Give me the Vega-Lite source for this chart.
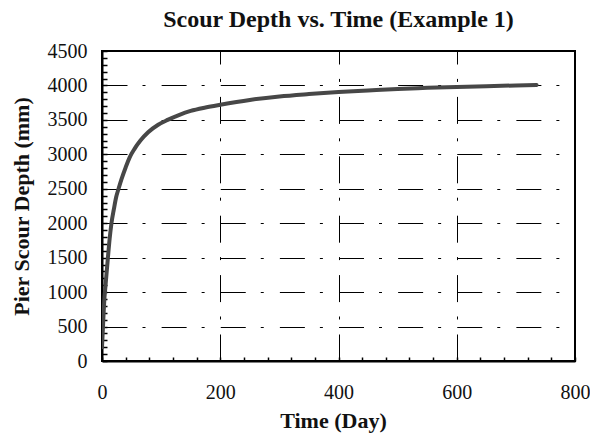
{
  "$schema": "https://vega.github.io/schema/vega-lite/v6.json",
  "width": 473,
  "height": 310,
  "autosize": {"type": "none"},
  "padding": {"left": 102, "top": 51, "right": 15, "bottom": 72},
  "background": "white",
  "config": {
    "font": "Liberation Serif",
    "view": {"stroke": "black", "strokeWidth": 2}
  },
  "title": {
    "text": "Scour Depth vs. Time (Example 1)",
    "font": "Liberation Serif",
    "fontSize": 24,
    "fontWeight": "bold",
    "color": "#111111",
    "anchor": "middle",
    "frame": "group",
    "baseline": "alphabetic",
    "offset": -10
  },
  "data": {
    "values": [
      {"t": 0, "depth": 200},
      {"t": 1, "depth": 380},
      {"t": 2, "depth": 560},
      {"t": 3, "depth": 740},
      {"t": 4, "depth": 900},
      {"t": 5.5, "depth": 1050},
      {"t": 7.5, "depth": 1250},
      {"t": 10, "depth": 1500},
      {"t": 13, "depth": 1780},
      {"t": 16, "depth": 2000},
      {"t": 20, "depth": 2200},
      {"t": 24, "depth": 2380},
      {"t": 28, "depth": 2500},
      {"t": 33, "depth": 2640},
      {"t": 40, "depth": 2810},
      {"t": 47, "depth": 2960},
      {"t": 55, "depth": 3080},
      {"t": 65, "depth": 3200},
      {"t": 78, "depth": 3320},
      {"t": 95, "depth": 3430},
      {"t": 111, "depth": 3500},
      {"t": 130, "depth": 3570},
      {"t": 150, "depth": 3630},
      {"t": 175, "depth": 3680},
      {"t": 200, "depth": 3720},
      {"t": 250, "depth": 3790},
      {"t": 300, "depth": 3840},
      {"t": 350, "depth": 3875},
      {"t": 400, "depth": 3905},
      {"t": 450, "depth": 3928},
      {"t": 500, "depth": 3950},
      {"t": 550, "depth": 3965},
      {"t": 600, "depth": 3978},
      {"t": 650, "depth": 3990},
      {"t": 700, "depth": 4000},
      {"t": 735, "depth": 4006}
    ]
  },
  "layer": [
    {
      "mark": {"type": "line", "color": "#474747", "strokeWidth": 4, "interpolate": "monotone", "strokeCap": "round", "clip": true},
      "encoding": {
        "x": {
          "field": "t",
          "type": "quantitative",
          "scale": {"domain": [0, 800], "nice": false, "zero": false},
          "axis": {
            "orient": "bottom",
            "values": [0, 200, 400, 600, 800],
            "format": "d",
            "title": "Time (Day)",
            "grid": true,
            "gridColor": "black",
            "gridWidth": 1,
            "gridOpacity": 1,
            "gridDash": [27, 14.4, 3, 15],
            "gridDashOffset": 14,
            "ticks": false,
            "domain": true,
            "domainColor": "black",
            "domainWidth": 2,
            "labelFont": "Liberation Serif",
            "labelFontSize": 20,
            "labelColor": "#111111",
            "labelPadding": 21,
            "labelFlush": false,
            "labelOverlap": false,
            "titleFont": "Liberation Serif",
            "titleFontSize": 22,
            "titleFontWeight": "bold",
            "titleColor": "#111111",
            "titleX": 231,
            "titleY": 66,
            "titleAlign": "center",
            "titleBaseline": "alphabetic"
          }
        },
        "y": {
          "field": "depth",
          "type": "quantitative",
          "scale": {"domain": [0, 4500], "nice": false},
          "axis": {
            "orient": "left",
            "values": [0, 500, 1000, 1500, 2000, 2500, 3000, 3500, 4000, 4500],
            "format": "d",
            "title": "Pier Scour Depth (mm)",
            "grid": true,
            "gridColor": "black",
            "gridWidth": 1,
            "gridOpacity": 1,
            "gridDash": [25, 15, 3, 16.125],
            "ticks": false,
            "domain": true,
            "domainColor": "black",
            "domainWidth": 2,
            "labelFont": "Liberation Serif",
            "labelFontSize": 20,
            "labelColor": "#111111",
            "labelPadding": 15,
            "labelFlush": false,
            "labelOverlap": false,
            "titleFont": "Liberation Serif",
            "titleFontSize": 22,
            "titleFontWeight": "bold",
            "titleColor": "#111111",
            "titleAngle": -90,
            "titleX": -74,
            "titleY": 155,
            "titleAlign": "center",
            "titleBaseline": "alphabetic"
          }
        }
      }
    },
    {
      "mark": {"type": "point", "opacity": 0},
      "encoding": {
        "x": {
          "field": "t",
          "type": "quantitative",
          "axis": {
            "orient": "bottom",
            "values": [0, 40, 80, 120, 160, 200, 240, 280, 320, 360, 400, 440, 480, 520, 560, 600, 640, 680, 720, 760, 800],
            "labels": false,
            "grid": false,
            "domain": false,
            "ticks": true,
            "tickSize": -4,
            "tickColor": "black",
            "tickWidth": 1.5,
            "title": null
          }
        },
        "y": {
          "field": "depth",
          "type": "quantitative",
          "axis": {
            "orient": "left",
            "values": [0, 100, 200, 300, 400, 500, 600, 700, 800, 900, 1000, 1100, 1200, 1300, 1400, 1500, 1600, 1700, 1800, 1900, 2000, 2100, 2200, 2300, 2400, 2500, 2600, 2700, 2800, 2900, 3000, 3100, 3200, 3300, 3400, 3500, 3600, 3700, 3800, 3900, 4000, 4100, 4200, 4300, 4400, 4500],
            "labels": false,
            "grid": false,
            "domain": false,
            "ticks": true,
            "tickSize": -5,
            "tickColor": "black",
            "tickWidth": 1.5,
            "title": null
          }
        }
      }
    }
  ],
  "resolve": {"axis": {"x": "independent", "y": "independent"}}
}
